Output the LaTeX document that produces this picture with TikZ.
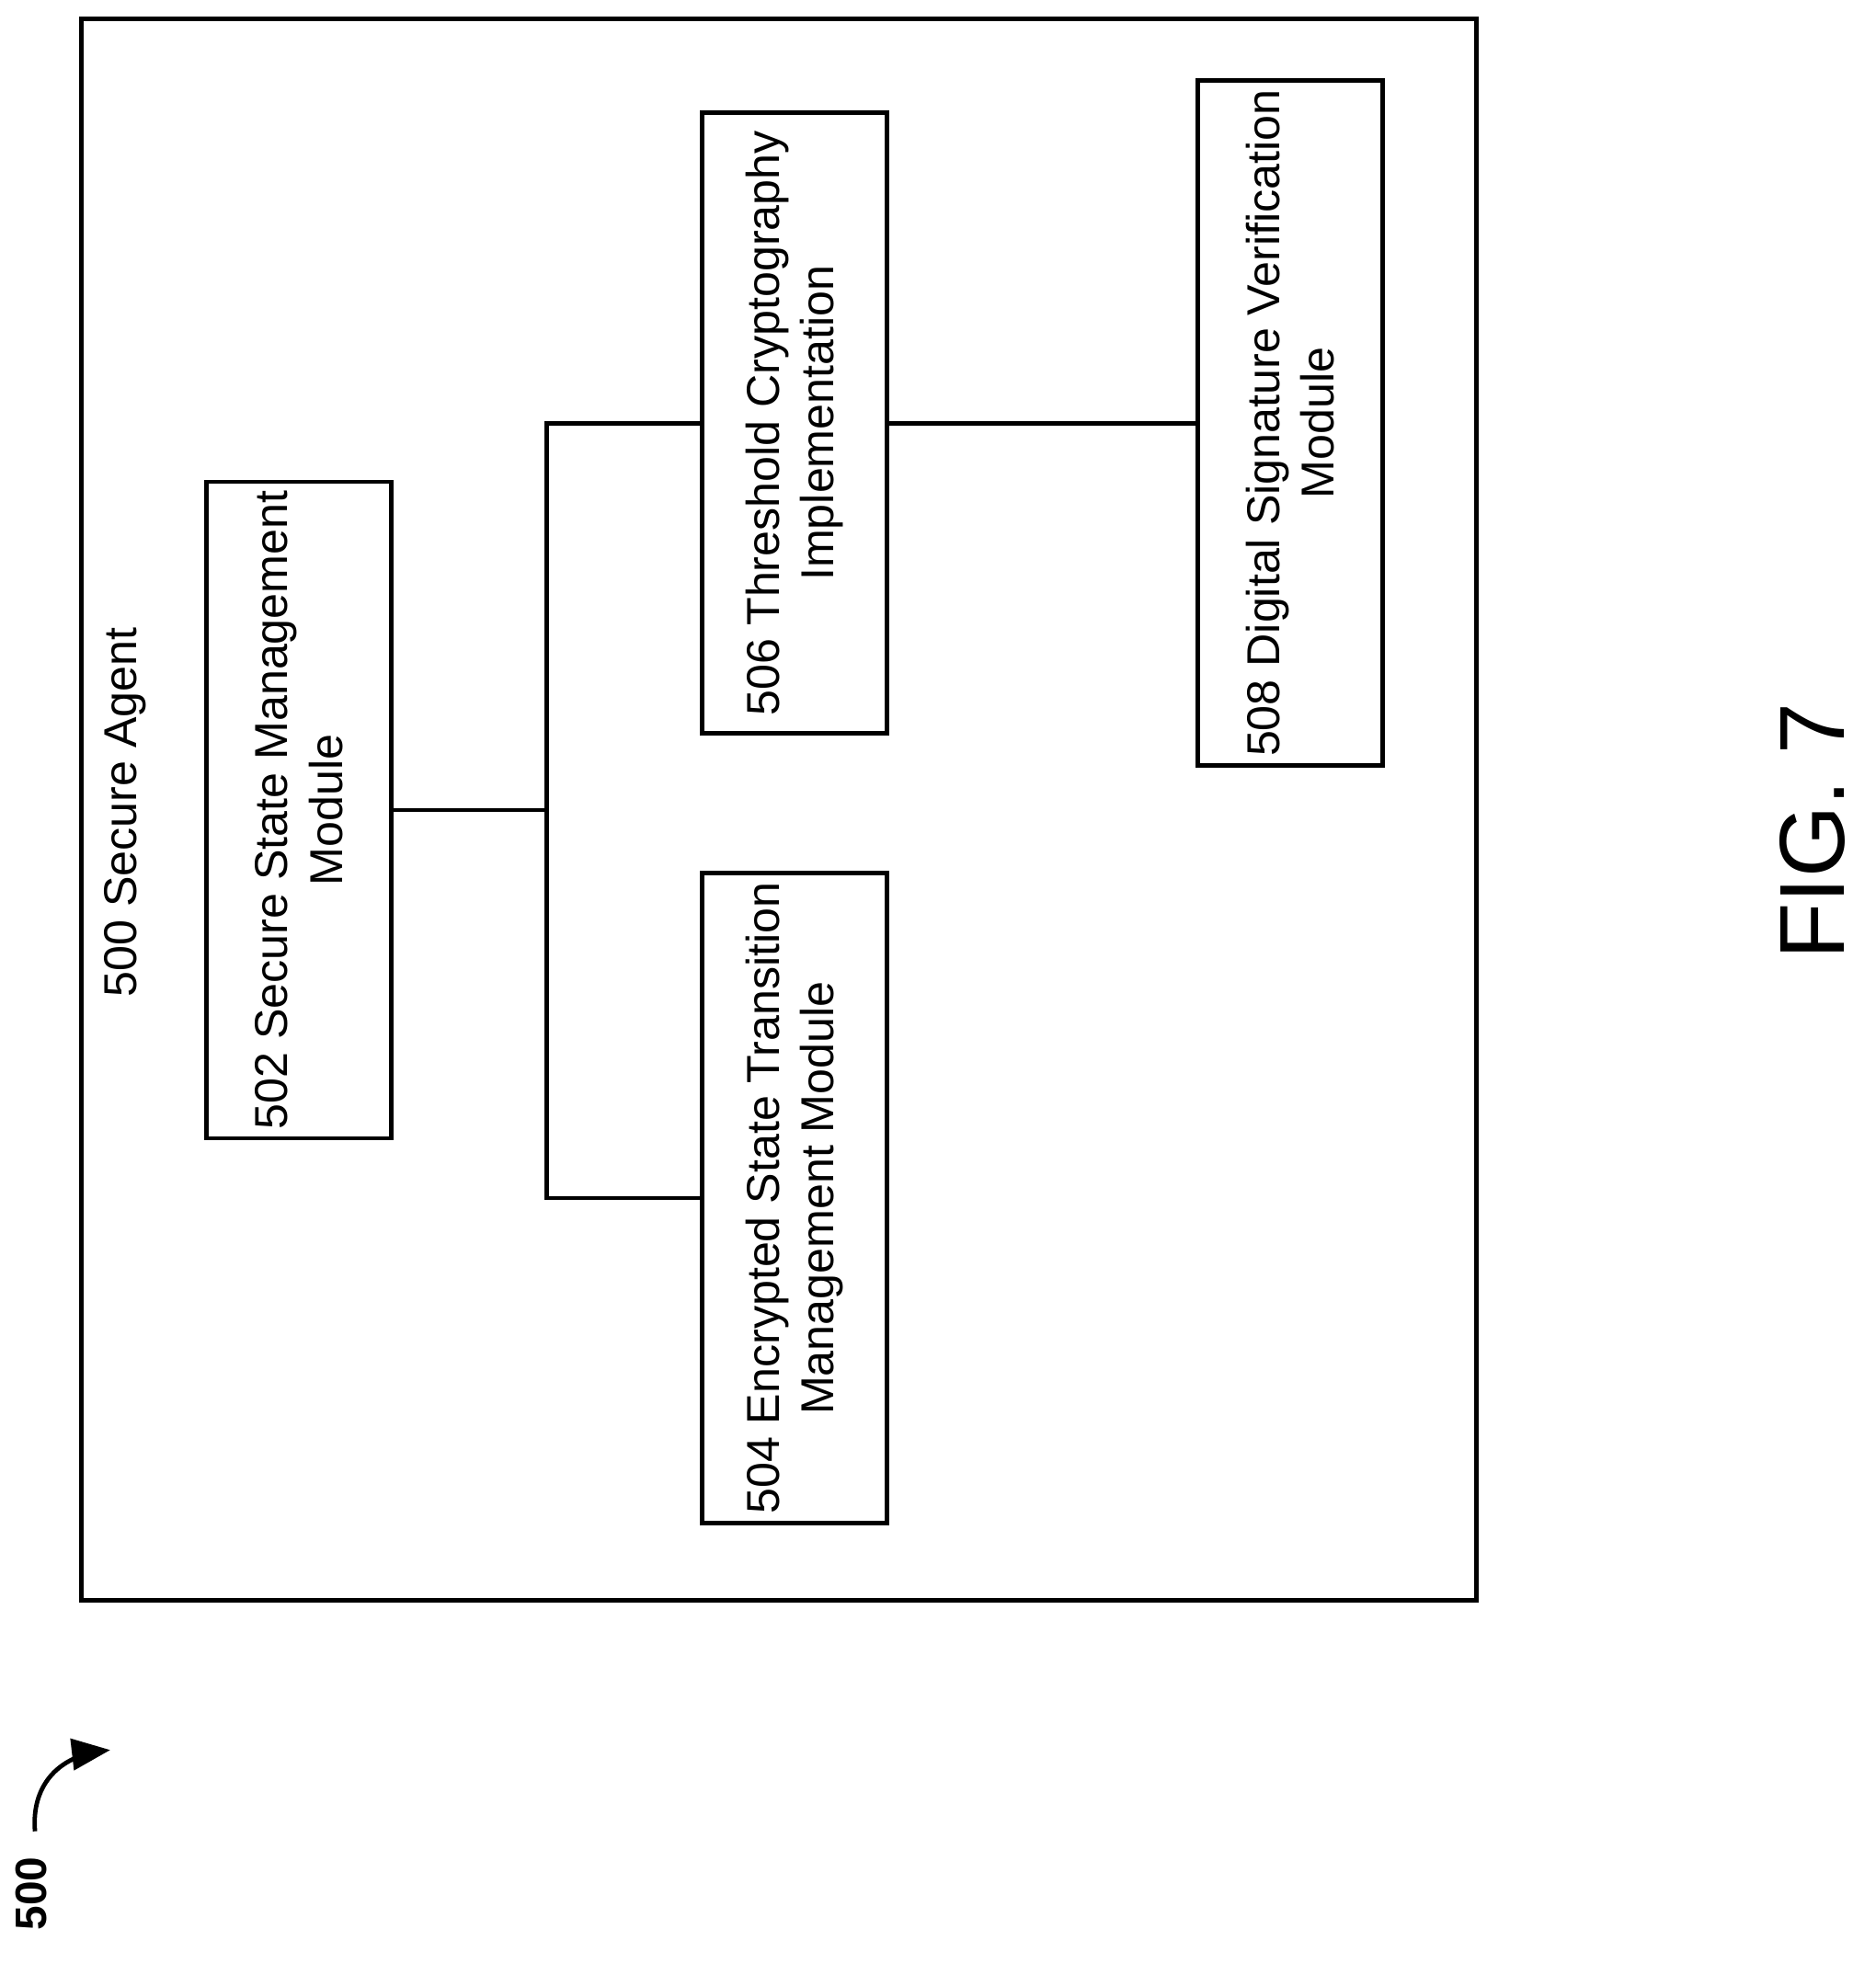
\documentclass[tikz,border=0pt]{standalone}
\usepackage{fontspec}
\setmainfont{Liberation Sans}
\usetikzlibrary{arrows}
\tikzset{
  module/.style={draw, line width=1pt, rotate=90, align=center, inner sep=2pt,
    minimum width=4.96cm, minimum height=1.48cm, font=\fontsize{10.5}{12.5}\selectfont},
  link/.style={line width=1pt}
}
\begin{document}
\begin{tikzpicture}[x=0.01cm, y=-0.01cm]
  \useasboundingbox (0,0) rectangle (1500,1580);
  \draw[line width=1pt] (65,15) rectangle (1181,1280);
  \node[rotate=90, font=\fontsize{10.5}{12.5}\selectfont] (agent) at (100,650) {500 Secure Agent};

  \node[module] (m502) at (239,648) {502 Secure State Management\\Module};
  \node[module] (m504) at (635.5,958.5) {504 Encrypted State Transition\\Management Module};
  \node[module] (m506) at (635.5,338.5) {506 Threshold Cryptography\\Implementation};
  \node[module] (m508) at (1032,338.5) {508 Digital Signature Verification\\Module};

  \coordinate (j) at (437,648);
  \draw[link] (m502.south) -- (j);
  \draw[link] (m506.north) -| (j) |- (m504.north);
  \draw[link] (m506.south) -- (m508.north);

  \node[rotate=90, font=\fontsize{21}{24}\selectfont] (fig) at (1450,665) {FIG. 7};
  \node[rotate=90, font=\bfseries\fontsize{10}{12}\selectfont] (ref) at (25,1515) {500};
  \coordinate (a0) at (28,1465);
  \coordinate (a1) at (88,1400);
  \draw[line width=1pt, -triangle 45] (a0) .. controls (25,1430) and (45,1405) .. (a1);
\end{tikzpicture}
\end{document}
